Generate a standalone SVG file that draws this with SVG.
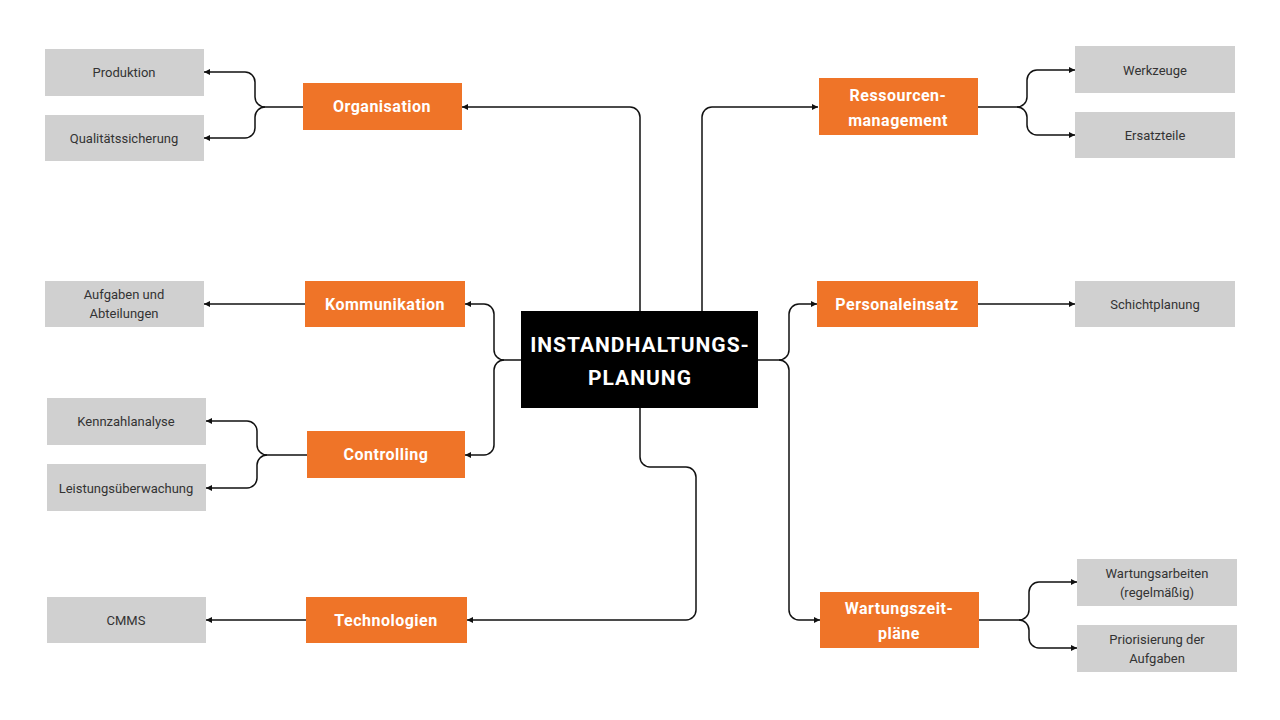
<svg xmlns="http://www.w3.org/2000/svg" width="1280" height="720" viewBox="0 0 1280 720">
<defs>
<marker id="ah" markerWidth="6" markerHeight="6" refX="6" refY="3" orient="auto" markerUnits="userSpaceOnUse"><path d="M0,0 L6,3 L0,6 z" fill="#111"/></marker>
<style>
.o{fill:#ef7428}.g{fill:#d0d0d0}.c{fill:#000}
.ot{font-family:Roboto,"Liberation Sans",sans-serif;font-weight:bold;font-size:16px;fill:#fff;text-anchor:middle;letter-spacing:0.5px}
.ct{font-family:Roboto,"Liberation Sans",sans-serif;font-weight:bold;font-size:21px;fill:#fff;text-anchor:middle;letter-spacing:1px}
.gt{font-family:Roboto,"Liberation Sans",sans-serif;font-size:13px;fill:#333;text-anchor:middle}
.l{fill:none;stroke:#111;stroke-width:1.5}
</style>
</defs>
<rect width="1280" height="720" fill="#fff"/>
<g id="connectors">
<path class="l" d="M640,311 V117 a10,10 0 0 0 -10,-10 H462" marker-end="url(#ah)"/>
<path class="l" d="M702,311 V117 a10,10 0 0 1 10,-10 H818" marker-end="url(#ah)"/>
<path class="l" d="M521,360 H504 a10,10 0 0 1 -10,-10 V314 a10,10 0 0 0 -10,-10 H465" marker-end="url(#ah)"/>
<path class="l" d="M504,360 a10,10 0 0 0 -10,10 V445 a10,10 0 0 1 -10,10 H465" marker-end="url(#ah)"/>
<path class="l" d="M758,360 H779 a10,10 0 0 0 10,-10 V314 a10,10 0 0 1 10,-10 H817" marker-end="url(#ah)"/>
<path class="l" d="M779,360 a10,10 0 0 1 10,10 V610 a10,10 0 0 0 10,10 H820" marker-end="url(#ah)"/>
<path class="l" d="M640,408 V457 a10,10 0 0 0 10,10 H686 a10,10 0 0 1 10,10 V610 a10,10 0 0 1 -10,10 H467" marker-end="url(#ah)"/>
<path class="l" d="M303,107 H265 a10,10 0 0 1 -10,-10 V82 a10,10 0 0 0 -10,-10 H204" marker-end="url(#ah)"/>
<path class="l" d="M265,107 a10,10 0 0 0 -10,10 V128 a10,10 0 0 1 -10,10 H204" marker-end="url(#ah)"/>
<path class="l" d="M305,304 H204" marker-end="url(#ah)"/>
<path class="l" d="M307,455 H267 a10,10 0 0 1 -10,-10 V431 a10,10 0 0 0 -10,-10 H206" marker-end="url(#ah)"/>
<path class="l" d="M267,455 a10,10 0 0 0 -10,10 V478 a10,10 0 0 1 -10,10 H206" marker-end="url(#ah)"/>
<path class="l" d="M306,620 H206" marker-end="url(#ah)"/>
<path class="l" d="M978,107 H1017 a10,10 0 0 0 10,-10 V80 a10,10 0 0 1 10,-10 H1075" marker-end="url(#ah)"/>
<path class="l" d="M1017,107 a10,10 0 0 1 10,10 V125 a10,10 0 0 0 10,10 H1075" marker-end="url(#ah)"/>
<path class="l" d="M978,304 H1075" marker-end="url(#ah)"/>
<path class="l" d="M979,620 H1019 a10,10 0 0 0 10,-10 V592 a10,10 0 0 1 10,-10 H1077" marker-end="url(#ah)"/>
<path class="l" d="M1019,620 a10,10 0 0 1 10,10 V638 a10,10 0 0 0 10,10 H1077" marker-end="url(#ah)"/>
</g>
<g id="center"><rect class="c" x="521" y="311" width="237" height="97"/><text class="ct" x="640" y="352">INSTANDHALTUNGS-</text><text class="ct" x="640" y="385">PLANUNG</text></g>
<g id="organisation"><rect class="o" x="303" y="83" width="159" height="47"/><text class="ot" x="382" y="112">Organisation</text></g>
<g id="produktion"><rect class="g" x="45" y="49" width="159" height="47"/><text class="gt" x="124" y="77">Produktion</text></g>
<g id="qualitaet"><rect class="g" x="45" y="115" width="159" height="46"/><text class="gt" x="124" y="143">Qualitätssicherung</text></g>
<g id="kommunikation"><rect class="o" x="305" y="281" width="160" height="46"/><text class="ot" x="385" y="310">Kommunikation</text></g>
<g id="aufgaben"><rect class="g" x="45" y="281" width="159" height="46"/><text class="gt" x="124" y="299">Aufgaben und</text><text class="gt" x="124" y="318">Abteilungen</text></g>
<g id="controlling"><rect class="o" x="307" y="431" width="158" height="47"/><text class="ot" x="386" y="460">Controlling</text></g>
<g id="kennzahl"><rect class="g" x="47" y="398" width="159" height="47"/><text class="gt" x="126" y="426">Kennzahlanalyse</text></g>
<g id="leistung"><rect class="g" x="47" y="464" width="159" height="47"/><text class="gt" x="126" y="493">Leistungsüberwachung</text></g>
<g id="technologien"><rect class="o" x="306" y="597" width="161" height="46"/><text class="ot" x="386" y="626">Technologien</text></g>
<g id="cmms"><rect class="g" x="47" y="597" width="159" height="46"/><text class="gt" x="126" y="625">CMMS</text></g>
<g id="ressourcen"><rect class="o" x="819" y="78" width="159" height="57"/><text class="ot" x="898" y="101">Ressourcen-</text><text class="ot" x="898" y="126">management</text></g>
<g id="werkzeuge"><rect class="g" x="1075" y="46" width="160" height="47"/><text class="gt" x="1155" y="75">Werkzeuge</text></g>
<g id="ersatzteile"><rect class="g" x="1075" y="112" width="160" height="46"/><text class="gt" x="1155" y="140">Ersatzteile</text></g>
<g id="personal"><rect class="o" x="817" y="281" width="161" height="46"/><text class="ot" x="897" y="310">Personaleinsatz</text></g>
<g id="schicht"><rect class="g" x="1075" y="281" width="160" height="46"/><text class="gt" x="1155" y="309">Schichtplanung</text></g>
<g id="wartung"><rect class="o" x="820" y="592" width="159" height="56"/><text class="ot" x="899" y="614">Wartungszeit-</text><text class="ot" x="899" y="639">pläne</text></g>
<g id="wartungsarbeiten"><rect class="g" x="1077" y="559" width="160" height="47"/><text class="gt" x="1157" y="578">Wartungsarbeiten</text><text class="gt" x="1157" y="597">(regelmäßig)</text></g>
<g id="priorisierung"><rect class="g" x="1077" y="625" width="160" height="47"/><text class="gt" x="1157" y="644">Priorisierung der</text><text class="gt" x="1157" y="663">Aufgaben</text></g>
</svg>
